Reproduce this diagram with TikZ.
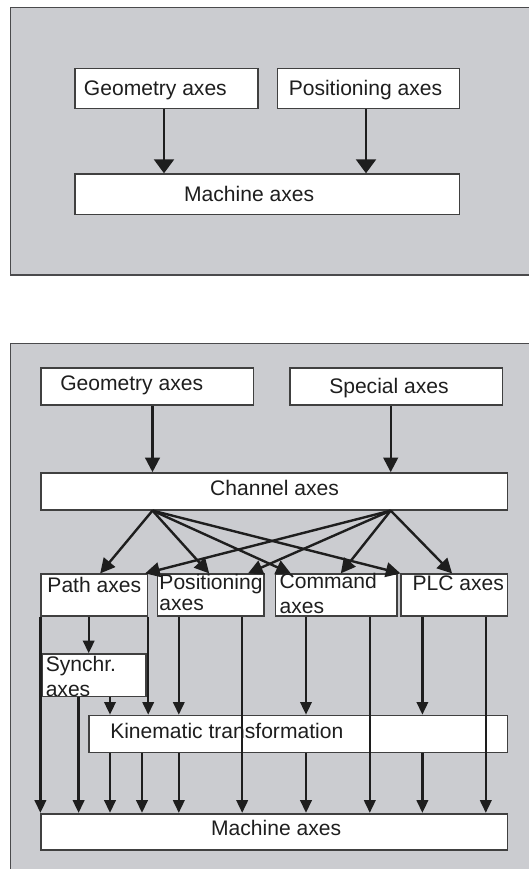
\documentclass[tikz,border=0pt]{standalone}
\usepackage{fontspec}
\setmainfont{Liberation Sans}
\usetikzlibrary{arrows.meta,fit}
\definecolor{panel}{HTML}{CBCCD0}
\definecolor{ink}{HTML}{1E1E1E}
\definecolor{edge}{HTML}{4A4A4C}
\begin{document}
\begin{tikzpicture}[x=0.75pt,y=-0.75pt,
  panelbox/.style={fill=panel, draw=edge, line width=0.9pt},
  box/.style={draw=ink!85, line width=1.2pt, fill=white, inner sep=0pt},
  lbl/.style={inner sep=0pt, anchor=base west, font=\fontsize{15.8}{18}\selectfont, text=ink},
  arr/.style={draw=ink, line width=1.8pt, -{Triangle[width=8.5pt,length=9.5pt]}},
  midarr/.style={draw=ink, line width=1.8pt, -{Triangle[width=11pt,length=11pt]}},
  bigarr/.style={draw=ink, line width=1.8pt, -{Triangle[width=15pt,length=10.5pt]}}]
\useasboundingbox (0,0) rectangle (529,869);
% panels
\path[panelbox] (10.5,7.4) rectangle (545,275);
\path[panelbox] (10.5,343.1) rectangle (545,885);

% ---------- top panel ----------
\node[box, fit={(75.2,68.5) (257.8,108.6)}] (g1) {};
\node[box, fit={(277.3,68.5) (459.5,108.6)}] (p1) {};
\node[box, fit={(75.2,174.1) (459.5,214.6)}] (m1) {};
\node[lbl] (tg1) at (83.7,95.5) {Geometry axes};
\node[lbl] (tp1) at (288.5,95.5) {Positioning axes};
\node[lbl] (tm1) at (183.9,201.4) {Machine axes};
\draw[bigarr] (g1.south -| 164,0) -- (m1.north -| 164,0);
\draw[bigarr] (p1.south -| 366,0) -- (m1.north -| 366,0);

% ---------- bottom panel ----------
\node[box, fit={(41.2,367.7) (253.4,405.2)}] (g2) {};
\node[box, fit={(289.8,367.7) (502.4,405.2)}] (s2) {};
\node[box, fit={(41.2,473) (507.4,509.8)}] (ch) {};
\node[box, fit={(41.2,574.2) (147.4,616)}] (pa) {};
\node[box, fit={(157.6,574.2) (263.8,616)}] (po) {};
\node[box, fit={(275.6,574.2) (397.1,616)}] (co) {};
\node[box, fit={(401.1,574.2) (507.4,616)}] (pl) {};
\node[box, fit={(41.8,654.1) (145.7,696.6)}] (sy) {};
\node[box, fit={(88.7,715.5) (507.4,752.3)}] (ki) {};
\node[box, fit={(41.2,813.7) (507.4,850.1)}] (ma) {};

\node[lbl] (tg2) at (60,390.3) {Geometry axes};
\node[lbl] (ts2) at (329,393.7) {Special axes};
\node[lbl] (tch) at (209.9,495.2) {Channel axes};
\node[lbl] (tpa) at (47.2,592) {Path axes};
\node[lbl] (tpo1) at (159.2,589.7) {Positioning};
\node[lbl] (tpo2) at (159.2,610.6) {axes};
\node[lbl] (tco1) at (279.4,588.7) {Command};
\node[lbl] (tco2) at (279.4,613.3) {axes};
\node[lbl] (tpl) at (412.3,590.4) {PLC axes};
\node[lbl] (tsy1) at (45.5,671.3) {Synchr.};
\node[lbl] (tsy2) at (45.5,696.6) {axes};
\node[lbl] (tki) at (110,738.8) {Kinematic transformation};
\node[lbl] (tma) at (210.9,835) {Machine axes};

% into channel axes
\draw[midarr] (g2.south -| 152.5,0) -- (ch.north -| 152.5,0);
\draw[midarr] (s2.south -| 390.7,0) -- (ch.north -| 390.7,0);

% fan out of channel axes
\coordinate (fa) at (ch.south -| 152.5,0);
\coordinate (fb) at (ch.south -| 390.7,0);
\draw[midarr] (fa) -- (pa.north -| 100.2,0);
\draw[midarr] (fa) -- (po.north -| 209.2,0);
\draw[midarr] (fa) -- (co.north -| 290.8,0);
\draw[midarr] (fa) -- (pl.north -| 400.5,0);
\draw[midarr] (fb) -- (pa.north -| 145.1,0);
\draw[midarr] (fb) -- (po.north -| 248,0);
\draw[midarr] (fb) -- (co.north -| 340.8,0);
\draw[midarr] (fb) -- (pl.north -| 452.1,0);

% path -> synchr
\draw[arr] (pa.south -| 88.7,0) -- (sy.north -| 88.7,0);

% into kinematic transformation
\draw[arr] (sy.south -| 110,0) -- (ki.north -| 110,0);
\draw[arr] (pa.south east) -- (ki.north -| pa.east);
\draw[arr] (po.south -| 178.8,0) -- (ki.north -| 178.8,0);
\draw[arr] (co.south -| 306,0) -- (ki.north -| 306,0);
\draw[arr] (pl.south -| 422.4,0) -- (ki.north -| 422.4,0);

% kinematic -> machine
\draw[arr] (ki.south -| 110,0) -- (ma.north -| 110,0);
\draw[arr] (ki.south -| 142,0) -- (ma.north -| 142,0);
\draw[arr] (ki.south -| 178.8,0) -- (ma.north -| 178.8,0);
\draw[arr] (ki.south -| 306,0) -- (ma.north -| 306,0);
\draw[arr] (ki.south -| 422.4,0) -- (ma.north -| 422.4,0);

% direct to machine axes
\draw[arr] (pa.south west) -- (ma.north -| pa.west);
\draw[arr] (sy.south -| 78.6,0) -- (ma.north -| 78.6,0);
\draw[arr] (po.south -| 242.2,0) -- (ma.north -| 242.2,0);
\draw[arr] (co.south -| 369.8,0) -- (ma.north -| 369.8,0);
\draw[arr] (pl.south -| 485.8,0) -- (ma.north -| 485.8,0);
\end{tikzpicture}
\end{document}
